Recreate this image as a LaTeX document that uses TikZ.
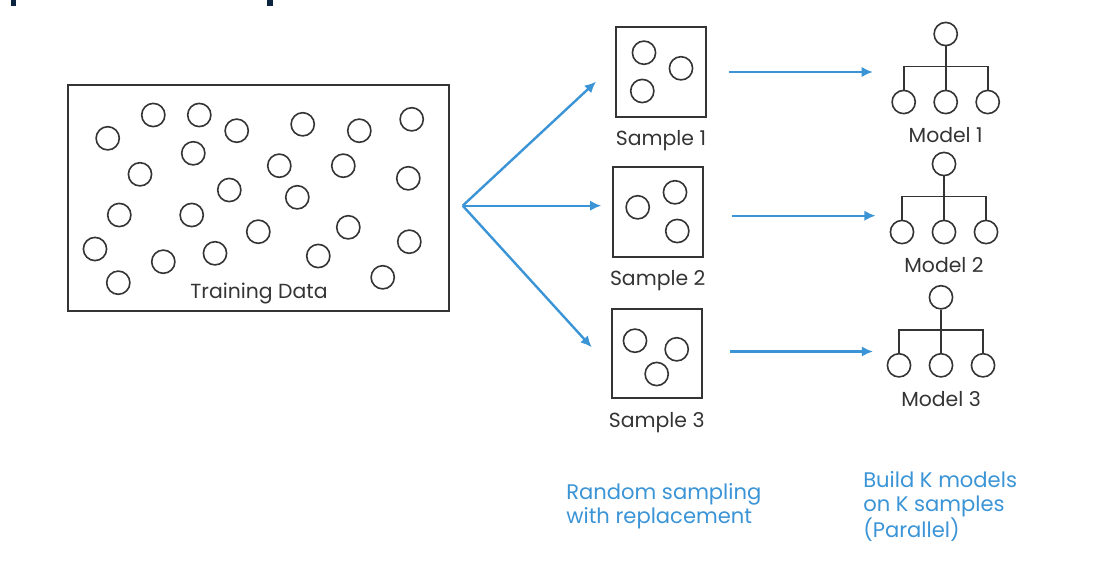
\documentclass[tikz,border=0pt]{standalone}
\usepackage{fontspec}
\setmainfont{Poppins}
\usepackage{tikz}
\usetikzlibrary{arrows,arrows.meta,positioning,calc,trees}
\definecolor{flowblue}{RGB}{58,148,214}
\definecolor{inkgray}{RGB}{52,52,52}
\definecolor{headnavy}{RGB}{12,36,64}

\begin{document}
\begin{tikzpicture}
[x=0.025cm,y=-0.025cm,
dot/.style={draw=inkgray,line width=.4mm},
leaf/.style={draw=inkgray,circle,inner sep=0pt,line width=.4mm,minimum size=.58cm},
frame/.style={draw=inkgray,line width=.5mm,inner sep=0pt},
caption/.style={text=inkgray,inner sep=0pt,font=\fontsize{14.5}{17}\selectfont},
note/.style={text=flowblue,inner sep=0pt,align=left,font=\fontsize{15}{17}\selectfont},
flow/.style={draw=flowblue,line width=.6mm,-{Latex[length=2.8mm,width=2.6mm]}},
level distance=1.7cm,
sibling distance=1.05cm,
every child node/.style={leaf},
edge from parent/.style={draw=inkgray,line width=.4mm},
edge from parent path={(\tikzparentnode.south) -- +(0,20) -| (\tikzchildnode.north)}]
\useasboundingbox (0,0) rectangle (1095,585);
\fill[headnavy] (11,0) rectangle (16,6);
\fill[headnavy] (267,0) rectangle (273,6);

\node[frame,minimum width=9.525cm,minimum height=5.65cm] (train) at (258.5,198) {};
\foreach \cx/\cy in {107.7/138.3,153.3/115,199.3/115,236.7/130.7,302.7/124.3,359.3/130.7,411.7/119.3,
193.3/153.3,140/174.3,279.3/165.7,343.3/165.7,408.3/178.3,229.3/190,297.3/197.3,119.3/215,
191.7/215,258.3/231.7,348.3/227.3,409.3/241.7,95/249,163.3/261.7,215/253.3,318.3/256,118.3/282.7,382.7/277.3}
\draw[dot] (\cx,\cy) circle (0.29cm);
\node[caption,anchor=base] (traincap) at (259,298) {Training Data};

\node[frame,minimum size=2.25cm] (s1) at (661,72) {};
\node[frame,minimum size=2.25cm] (s2) at (657.7,211.7) {};
\node[frame,minimum width=2.25cm,minimum height=2.2cm] (s3) at (656.7,353.5) {};
\foreach \cx/\cy in {644/52.7,681/68.3,642.3/91,637.7/207.3,675/192.3,677.3/231,635/340.7,676.7/349.3,656.7/374}
\draw[dot] (\cx,\cy) circle (0.29cm);
\node[caption,anchor=base] (s1cap) at ([yshift=-0.68cm]s1.south) {Sample 1};
\node[caption,anchor=base] (s2cap) at ([yshift=-0.7cm]s2.south) {Sample 2};
\node[caption,anchor=base] (s3cap) at ([yshift=-0.72cm]s3.south) {Sample 3};

\node[leaf] (m1) at (945.7,34) {}
child {node (m1a) {}}
child {node (m1b) {}}
child {node (m1c) {}};
\node[leaf] (m2) at (944,164) {}
child {node (m2a) {}}
child {node (m2b) {}}
child {node (m2c) {}};
\node[leaf] (m3) at (941,297.3) {}
child {node (m3a) {}}
child {node (m3b) {}}
child {node (m3c) {}};
\node[caption,anchor=base] (m1cap) at ([yshift=-1cm]m1b.center) {Model 1};
\node[caption,anchor=base] (m2cap) at ([yshift=-1.02cm]m2b.center) {Model 2};
\node[caption,anchor=base] (m3cap) at ([yshift=-1.02cm]m3b.center) {Model 3};

\coordinate (fan) at (462.7,205.7);
\coordinate (tip1) at (596,81.7);
\coordinate (tip3) at (591.7,347.3);
\draw[flow] (fan) -- (tip1);
\draw[flow,shorten >=0.26cm] (fan) -- (fan -| s2.west);
\draw[flow] (fan) -- (tip3);
\draw[flow,shorten <=0.56cm,shorten >=0.46cm] (s1.east) -- (s1.east -| m1a.west);
\draw[flow,shorten <=0.7cm,shorten >=0.35cm] ([yshift=-0.1cm]s2.east) -- ([yshift=-0.1cm]s2.east -| m2a.west);
\draw[flow,shorten <=0.67cm,shorten >=0.34cm] ([yshift=0.05cm]s3.east) -- ([yshift=0.05cm]s3.east -| m3a.west);

\node[note,anchor=north west] (sampling) at (566,483) {Random sampling\\with replacement};
\node[note,anchor=north west] (building) at (863,471) {Build K models\\on K samples\\(Parallel)};
\end{tikzpicture}
\end{document}
